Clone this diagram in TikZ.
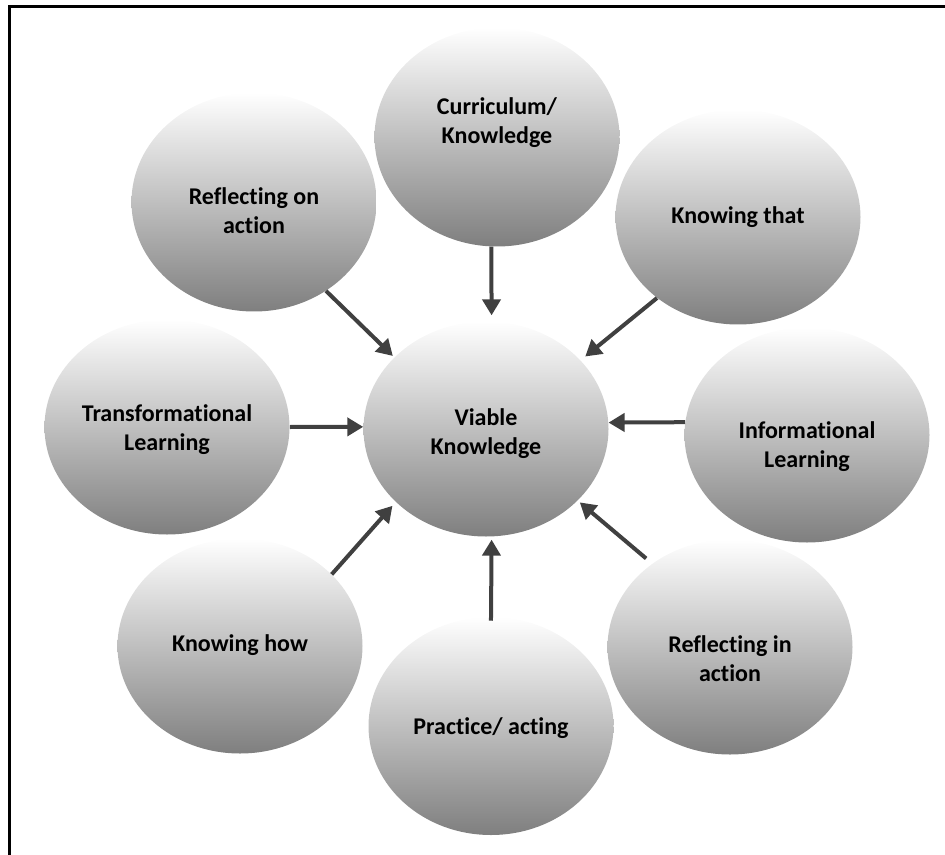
\documentclass[tikz,border=0pt]{standalone}
\usepackage{fontspec}
\setmainfont{Carlito}[RawFeature={-liga;-clig;-calt;-dlig}]
\usetikzlibrary{shapes.geometric,arrows.meta}
\definecolor{arrgray}{HTML}{404040}
\definecolor{botgray}{HTML}{7F7F7F}
\begin{document}
\begin{tikzpicture}[x=0.75pt,y=-0.75pt,
 bubble/.style={ellipse, minimum width=183.75pt, minimum height=161.25pt, inner sep=0pt,
   top color=white, bottom color=botgray, draw=none},
 lbl/.style={font=\fontsize{18}{21.75}\selectfont\bfseries, align=center, text=black, inner sep=0pt},
 arr/.style={draw=arrgray, line width=3pt, -{Triangle[length=12pt,width=13.5pt]}},
]
\useasboundingbox (0,0) rectangle (945,855);
\draw[line width=1.9pt] (9.5,855) -- (9.5,6.5) -- (945,6.5);

\node[bubble] (vk) at (486,429) {};
\node[bubble, minimum height=164.25pt] (cur) at (497,137) {};
\node[bubble, minimum height=164.25pt] (roa) at (254,202) {};
\node[bubble] (kt) at (738,217) {};
\node[bubble] (tl) at (167,427) {};
\node[bubble] (il) at (807,435) {};
\node[bubble] (kh) at (240,646) {};
\node[bubble, minimum height=163.5pt] (pa) at (491,726) {};
\node[bubble] (ria) at (730,647) {};

\node[lbl] (vkt) at (486,434) {Viable\\Knowledge};
\node[lbl] (curt) at (497,123) {Curriculum/\\Knowledge};
\node[lbl] (roat) at (254,211) {Reflecting on\\action};
\node[lbl] (ktt) at (738,217) {Knowing that};
\node[lbl] (tlt) at (167,430) {Transformational\\Learning};
\node[lbl] (ilt) at (807,447) {Informational\\Learning};
\node[lbl] (kht) at (240,645) {Knowing how};
\node[lbl] (pat) at (491,728) {Practice/ acting};
\node[lbl] (riat) at (730,659) {Reflecting in\\action};

\draw[arr, shorten >=4.5pt] (cur.-93) -- (vk.87);
\draw[arr, shorten >=1.5pt] (roa.-51) -- (vk.142);
\draw[arr, shorten >=4.5pt] (kt.-135) -- (vk.36);
\draw[arr] (tl.0) -- (vk.179);
\draw[arr] (il.174) -- (vk.3);
\draw[arr, shorten >=3.75pt] (kh.38) -- (vk.-141);
\draw[arr, shorten <=-3pt, shorten >=2.25pt] (pa.90) -- (vk.-87);
\draw[arr, shorten <=6pt, shorten >=2pt] (ria.133) -- (vk.-38);
\end{tikzpicture}
\end{document}
